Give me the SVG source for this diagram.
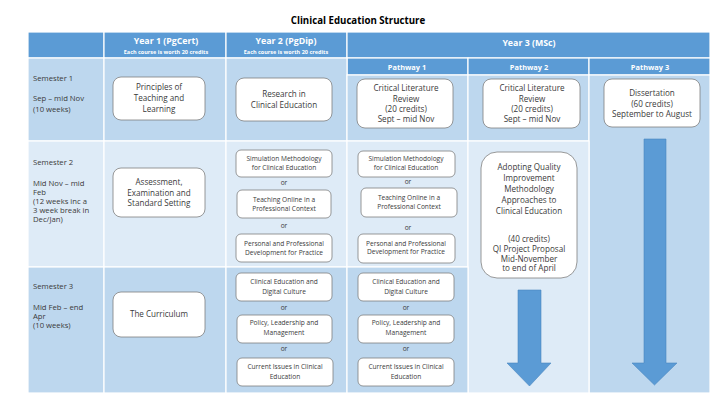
<svg xmlns="http://www.w3.org/2000/svg" width="720" height="405" viewBox="0 0 720 405">
<style>
.m{fill:#BDD7EE;stroke:#fff;stroke-width:1.2}
.l{fill:#DEEBF7;stroke:#fff;stroke-width:1.2}
.hd{fill:#5B9BD5;stroke:#fff;stroke-width:1.2}
.box{fill:#fff;stroke:#7F7F7F;stroke-width:0.8}
text{font-family:"Open Sans","Liberation Sans",sans-serif;fill:#3A3A3A;text-anchor:middle}
.t{font-size:8.1px}
.s{font-size:6.6px}
.lab{text-anchor:start;font-size:7.7px}
.h{fill:#fff;font-weight:bold;font-size:8.8px}
.hs{fill:#fff;font-weight:bold;font-size:5.5px}
.ph{fill:#fff;font-weight:bold;font-size:7.4px}
.ttl{fill:#000;font-weight:bold;font-size:9.7px}
.arrow{fill:#5B9BD5;stroke:#4A86C0;stroke-width:0.6}
</style>
<rect width="720" height="405" fill="#fff"/>
<text class="ttl" x="358" y="24">Clinical Education Structure</text>
<g id="table">
<rect class="hd" x="28" y="32" width="76" height="26"/>
<rect class="hd" x="104" y="32" width="122" height="26"/>
<rect class="hd" x="226" y="32" width="121" height="26"/>
<rect class="hd" x="347" y="32" width="363" height="26"/>
<rect class="hd" x="347" y="58" width="121" height="17"/>
<rect class="hd" x="468" y="58" width="121" height="17"/>
<rect class="hd" x="589" y="58" width="121" height="17"/>
<rect class="m" x="28" y="58" width="76" height="83"/>
<rect class="m" x="104" y="58" width="122" height="83"/>
<rect class="m" x="226" y="58" width="121" height="83"/>
<rect class="m" x="347" y="75" width="121" height="66"/>
<rect class="m" x="468" y="75" width="121" height="66"/>
<rect class="m" x="589" y="75" width="121" height="318"/>
<rect class="l" x="28" y="141" width="76" height="126"/>
<rect class="l" x="104" y="141" width="122" height="126"/>
<rect class="l" x="226" y="141" width="121" height="126"/>
<rect class="l" x="347" y="141" width="121" height="126"/>
<rect class="l" x="468" y="141" width="121" height="252"/>
<rect class="m" x="28" y="267" width="76" height="126"/>
<rect class="m" x="104" y="267" width="122" height="126"/>
<rect class="m" x="226" y="267" width="121" height="126"/>
<rect class="m" x="347" y="267" width="121" height="126"/>
<text class="h" x="166" y="44">Year 1 (PgCert)</text>
<text class="hs" x="166" y="54">Each course is worth 20 credits</text>
<text class="h" x="286" y="44">Year 2 (PgDip)</text>
<text class="hs" x="286" y="54">Each course is worth 20 credits</text>
<text class="h" x="529" y="46">Year 3 (MSc)</text>
<text class="ph" x="407" y="69.5">Pathway 1</text>
<text class="ph" x="529" y="69.5">Pathway 2</text>
<text class="ph" x="650" y="69.5">Pathway 3</text>
<text class="lab" x="33" y="81">Semester 1</text>
<text class="lab" x="33" y="101">Sep – mid Nov</text>
<text class="lab" x="33" y="112">(10 weeks)</text>
<text class="lab" x="33" y="165">Semester 2</text>
<text class="lab" x="33" y="186">Mid Nov – mid</text>
<text class="lab" x="33" y="195">Feb</text>
<text class="lab" x="33" y="204">(12 weeks inc a</text>
<text class="lab" x="33" y="213">3 week break in</text>
<text class="lab" x="33" y="222">Dec/Jan)</text>
<text class="lab" x="33" y="289">Semester 3</text>
<text class="lab" x="33" y="310">Mid Feb – end</text>
<text class="lab" x="33" y="319">Apr</text>
<text class="lab" x="33" y="328">(10 weeks)</text>
</g>
<g id="y1s1"><rect class="box" x="113" y="77" width="92" height="43" rx="8"/>
<text class="t" x="159" y="90">Principles of</text><text class="t" x="159" y="101">Teaching and</text><text class="t" x="159" y="112">Learning</text></g>
<g id="y2s1"><rect class="box" x="236" y="78" width="96" height="43" rx="8"/>
<text class="t" x="284" y="97">Research in</text><text class="t" x="284" y="108">Clinical Education</text></g>
<g id="p1s1"><rect class="box" x="357" y="79" width="96" height="49" rx="8"/>
<text class="t" x="406" y="91">Critical Literature</text><text class="t" x="406" y="101.5">Review</text><text class="t" x="406" y="112">(20 credits)</text><text class="t" x="406" y="122">Sept – mid Nov</text></g>
<g id="p2s1"><rect class="box" x="483" y="79" width="97" height="49" rx="8"/>
<text class="t" x="532" y="91">Critical Literature</text><text class="t" x="532" y="101.5">Review</text><text class="t" x="532" y="112">(20 credits)</text><text class="t" x="532" y="122">Sept – mid Nov</text></g>
<g id="p3"><rect class="box" x="604" y="79" width="96" height="48" rx="8"/>
<text class="t" x="652" y="96">Dissertation</text><text class="t" x="652" y="107">(60 credits)</text><text class="t" x="652" y="117">September to August</text></g>
<g id="y1s2"><rect class="box" x="113" y="168" width="92" height="49" rx="8"/>
<text class="t" x="159" y="185">Assessment,</text><text class="t" x="159" y="196">Examination and</text><text class="t" x="159" y="206">Standard Setting</text></g>
<g id="y2s2a"><rect class="box" x="236" y="150" width="96" height="27" rx="5"/>
<text class="s" x="284" y="161">Simulation Methodology</text><text class="s" x="284" y="169.5">for Clinical Education</text></g>
<text class="s" x="284" y="185">or</text>
<g id="y2s2b"><rect class="box" x="237" y="190" width="94" height="28" rx="5"/>
<text class="s" x="284" y="202">Teaching Online in a</text><text class="s" x="284" y="211">Professional Context</text></g>
<text class="s" x="284" y="228">or</text>
<g id="y2s2c"><rect class="box" x="236" y="234" width="96" height="28" rx="5"/>
<text class="s" x="284" y="246">Personal and Professional</text><text class="s" x="284" y="255">Development for Practice</text></g>
<g id="p1s2a"><rect class="box" x="358" y="151" width="97" height="26" rx="5"/>
<text class="s" x="406" y="161">Simulation Methodology</text><text class="s" x="406" y="170">for Clinical Education</text></g>
<text class="s" x="408" y="184">or</text>
<g id="p1s2b"><rect class="box" x="361" y="188" width="96" height="29" rx="5"/>
<text class="s" x="409" y="199.5">Teaching Online in a</text><text class="s" x="409" y="208.5">Professional Context</text></g>
<text class="s" x="408" y="230">or</text>
<g id="p1s2c"><rect class="box" x="358" y="234" width="97" height="29" rx="5"/>
<text class="s" x="406" y="245.5">Personal and Professional</text><text class="s" x="406" y="254">Development for Practice</text></g>
<g id="p2s2"><rect class="box" x="481" y="152" width="96" height="126" rx="16"/>
<text class="t" x="529" y="170">Adopting Quality</text><text class="t" x="529" y="181">Improvement</text><text class="t" x="529" y="191.5">Methodology</text><text class="t" x="529" y="203">Approaches to</text><text class="t" x="529" y="214">Clinical Education</text>
<text class="t" x="529" y="242">(40 credits)</text><text class="t" x="529" y="252">QI Project Proposal</text><text class="t" x="529" y="261.5">Mid-November</text><text class="t" x="529" y="271">to end of April</text></g>
<g id="y1s3"><rect class="box" x="113" y="292" width="92" height="45" rx="8"/>
<text class="t" x="159" y="317">The Curriculum</text></g>
<g id="y2s3a"><rect class="box" x="236" y="273" width="96" height="28" rx="5"/>
<text class="s" x="284" y="284">Clinical Education and</text><text class="s" x="284" y="294">Digital Culture</text></g>
<text class="s" x="284" y="310">or</text>
<g id="y2s3b"><rect class="box" x="237" y="315" width="95" height="28" rx="5"/>
<text class="s" x="284" y="325">Policy, Leadership and</text><text class="s" x="284" y="335">Management</text></g>
<text class="s" x="284" y="351">or</text>
<g id="y2s3c"><rect class="box" x="237" y="358" width="96" height="28" rx="5"/>
<text class="s" x="285" y="369">Current Issues in Clinical</text><text class="s" x="285" y="379">Education</text></g>
<g id="p1s3a"><rect class="box" x="358" y="273" width="96" height="28" rx="5"/>
<text class="s" x="406" y="284">Clinical Education and</text><text class="s" x="406" y="294">Digital Culture</text></g>
<text class="s" x="406" y="310">or</text>
<g id="p1s3b"><rect class="box" x="358" y="315" width="96" height="28" rx="5"/>
<text class="s" x="406" y="325">Policy, Leadership and</text><text class="s" x="406" y="335">Management</text></g>
<text class="s" x="406" y="351">or</text>
<g id="p1s3c"><rect class="box" x="358" y="358" width="96" height="28" rx="5"/>
<text class="s" x="406" y="369">Current Issues in Clinical</text><text class="s" x="406" y="379">Education</text></g>
<g id="connectors">
<path class="arrow" d="M518,290 H541 V363 H551 L529.5,386 L507,363 H518 Z"/>
<path class="arrow" d="M644,139 H666 V363 H677 L654.5,385 L632,363 H644 Z"/>
</g>
</svg>
